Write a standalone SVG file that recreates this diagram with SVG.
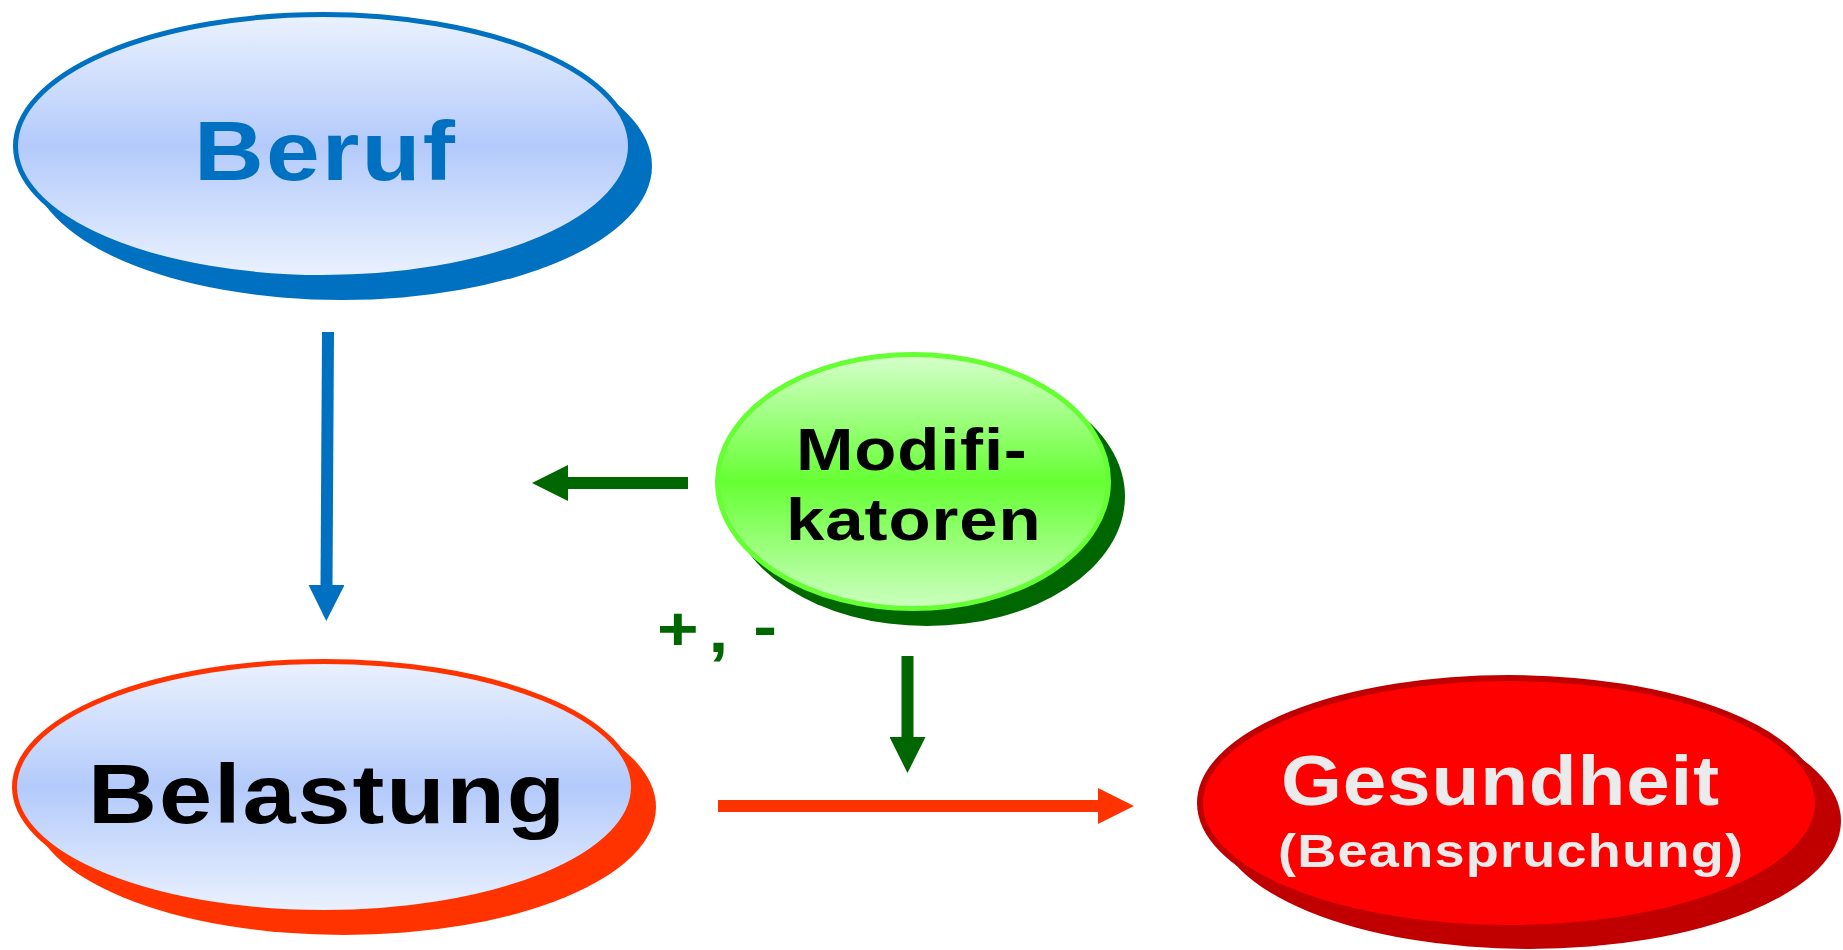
<svg xmlns="http://www.w3.org/2000/svg" width="1843" height="950" viewBox="0 0 1843 950">
<defs>
<linearGradient id="gBlue" x1="0" y1="0" x2="0" y2="1">
<stop offset="0" stop-color="#EBF2FE"/>
<stop offset="0.5" stop-color="#B3CAFB"/>
<stop offset="1" stop-color="#EBF2FE"/>
</linearGradient>
<linearGradient id="gGreen" x1="0" y1="0" x2="0" y2="1">
<stop offset="0" stop-color="#D6FFCC"/>
<stop offset="0.5" stop-color="#66FF33"/>
<stop offset="1" stop-color="#CCFFC0"/>
</linearGradient>
<marker id="hBlue" markerUnits="userSpaceOnUse" markerWidth="36" markerHeight="36" refX="0" refY="18" orient="auto"><path d="M0,0 L36,18 L0,36 Z" fill="#0070C0"/></marker>
<marker id="hGreen" markerUnits="userSpaceOnUse" markerWidth="36" markerHeight="36" refX="0" refY="18" orient="auto"><path d="M0,0 L36,18 L0,36 Z" fill="#006600"/></marker>
<marker id="hRed" markerUnits="userSpaceOnUse" markerWidth="36" markerHeight="36" refX="0" refY="18" orient="auto"><path d="M0,0 L36,18 L0,36 Z" fill="#FF3300"/></marker>
</defs>
<style>
.t{font-family:"Liberation Sans",Arial,sans-serif;font-weight:bold;}
.conn{fill:none;stroke-width:12;}
</style>
<rect width="1843" height="950" fill="#FFFFFF"/>
<g id="beruf">
<ellipse cx="342" cy="166" rx="310" ry="134" fill="#0070C0"/>
<ellipse cx="323" cy="146" rx="307.5" ry="131.5" fill="url(#gBlue)" stroke="#0070C0" stroke-width="5"/>
<text class="t" transform="translate(194,180) scale(1.15,1)" font-size="84" letter-spacing="1.9" fill="#0070C0">Beruf</text>
</g>
<g id="belastung">
<ellipse cx="344" cy="807" rx="312" ry="128" fill="#FF3300"/>
<ellipse cx="324" cy="787" rx="309.5" ry="125.5" fill="url(#gBlue)" stroke="#FF3300" stroke-width="5"/>
<text class="t" transform="translate(88,823) scale(1.15,1)" font-size="83" letter-spacing="1.7" fill="#000000">Belastung</text>
</g>
<g id="modifikatoren">
<ellipse cx="927" cy="496.5" rx="198" ry="129.5" fill="#006600"/>
<ellipse cx="913" cy="481.5" rx="195.5" ry="127" fill="url(#gGreen)" stroke="#66FF33" stroke-width="5"/>
<text class="t" transform="translate(796,470) scale(1.15,1)" font-size="60" letter-spacing="0.7" fill="#000000">Modifi-</text>
<text class="t" transform="translate(786,540) scale(1.15,1)" font-size="60" letter-spacing="0.8" fill="#000000">katoren</text>
</g>
<g id="gesundheit">
<ellipse cx="1529" cy="821" rx="312" ry="128" fill="#C00000"/>
<ellipse cx="1509" cy="803" rx="309" ry="125" fill="#FF0000" stroke="#C00000" stroke-width="6"/>
<text class="t" transform="translate(1281,805) scale(1.12,1)" font-size="70" letter-spacing="0.7" fill="#EBEBEB">Gesundheit</text>
<text class="t" transform="translate(1278,867) scale(1.15,1)" font-size="47" letter-spacing="1.1" fill="#EBEBEB">(Beanspruchung)</text>
</g>
<g id="connectors">
<line class="conn" x1="328" y1="332" x2="326.5" y2="585" stroke="#0070C0" marker-end="url(#hBlue)"/>
<line class="conn" x1="688" y1="483" x2="568" y2="483" stroke="#006600" marker-end="url(#hGreen)"/>
<line class="conn" x1="907.5" y1="656" x2="907.5" y2="737" stroke="#006600" marker-end="url(#hGreen)"/>
<line class="conn" x1="718" y1="806" x2="1098" y2="806" stroke="#FF3300" marker-end="url(#hRed)"/>
</g>
<g id="sign-label">
<text class="t" transform="scale(1.15,1)" font-size="62" fill="#006600"><tspan x="571.4" y="650">+</tspan><tspan x="616" y="652">,</tspan><tspan x="655" y="647">-</tspan></text>
</g>
</svg>
